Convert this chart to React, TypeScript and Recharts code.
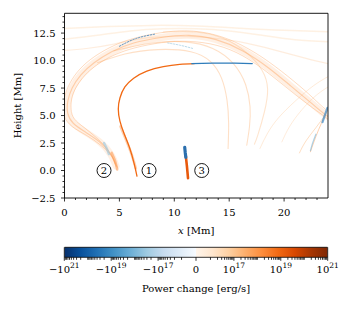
import React from "react";
import {
  LineChart,
  ComposedChart,
  Line,
  Area,
  XAxis,
  YAxis,
  ReferenceLine,
  ReferenceDot,
  Label,
} from "recharts";

const FONT = "DejaVu Serif";

type Pt = { x: number; y: number };

// axis ticks
const xMajorTicks = [0, 5, 10, 15, 20];
const xMinorTicks = [1, 2, 3, 4, 6, 7, 8, 9, 11, 12, 13, 14, 16, 17, 18, 19, 21, 22, 23];
const yMajorTicks = [-2.5, 0, 2.5, 5, 7.5, 10, 12.5];
const yMinorTicks = [
  -2, -1.5, -1, -0.5, 0.5, 1, 1.5, 2, 3, 3.5, 4, 4.5, 5.5, 6, 6.5, 7, 8, 8.5, 9, 9.5,
  10.5, 11, 11.5, 12, 13, 13.5, 14,
];
const X_MAX = 24;
const Y_MIN = -2.5;
const Y_MAX = 14.3;

// bright loop (1)
const loop1Orange: Pt[] = [
  { x: 6.6, y: -0.5 }, { x: 6.35, y: 0.6 }, { x: 5.95, y: 2.0 }, { x: 5.45, y: 3.3 },
  { x: 5.05, y: 4.5 }, { x: 4.9, y: 5.6 }, { x: 5.05, y: 6.6 }, { x: 5.5, y: 7.6 },
  { x: 6.3, y: 8.4 }, { x: 7.5, y: 9.05 }, { x: 9.0, y: 9.45 }, { x: 10.5, y: 9.65 },
  { x: 11.8, y: 9.72 },
];
const loop1Blue: Pt[] = [
  { x: 11.6, y: 9.72 }, { x: 13.5, y: 9.76 }, { x: 15.5, y: 9.76 }, { x: 17.1, y: 9.73 },
];
const loop1Foot: Pt[] = [
  { x: 5.1, y: 4.0 }, { x: 5.6, y: 2.8 }, { x: 6.1, y: 1.5 }, { x: 6.5, y: 0.2 },
];

// big faint loop (2)
const loop2Outer: Pt[] = [
  { x: 4.8, y: 0.3 }, { x: 4.3, y: 1.3 }, { x: 3.3, y: 2.3 }, { x: 2.0, y: 3.2 },
  { x: 0.7, y: 4.0 }, { x: 0.0, y: 4.9 }, { x: -0.1, y: 6.0 }, { x: 0.2, y: 7.3 },
  { x: 0.9, y: 8.6 }, { x: 2.0, y: 9.8 }, { x: 3.6, y: 10.9 }, { x: 5.6, y: 11.8 },
  { x: 8.0, y: 12.4 }, { x: 10.5, y: 12.7 }, { x: 13.0, y: 12.5 }, { x: 15.5, y: 11.7 },
  { x: 18.0, y: 10.3 }, { x: 20.3, y: 8.6 }, { x: 22.2, y: 7.0 }, { x: 23.5, y: 5.8 },
  { x: 24.3, y: 5.2 },
];
const loop2Mid: Pt[] = [
  { x: 4.7, y: 0.4 }, { x: 4.2, y: 1.5 }, { x: 3.2, y: 2.6 }, { x: 1.9, y: 3.5 },
  { x: 0.8, y: 4.3 }, { x: 0.3, y: 5.2 }, { x: 0.3, y: 6.3 }, { x: 0.7, y: 7.5 },
  { x: 1.5, y: 8.7 }, { x: 2.7, y: 9.8 }, { x: 4.3, y: 10.8 }, { x: 6.3, y: 11.6 },
  { x: 8.8, y: 12.1 }, { x: 11.3, y: 12.3 }, { x: 13.8, y: 11.9 }, { x: 16.2, y: 10.9 },
  { x: 18.5, y: 9.4 }, { x: 20.6, y: 7.7 }, { x: 22.4, y: 6.2 }, { x: 23.6, y: 5.2 },
  { x: 24.3, y: 4.7 },
];
const loop2Inner: Pt[] = [
  { x: 4.6, y: 0.6 }, { x: 4.0, y: 1.8 }, { x: 3.0, y: 2.9 }, { x: 1.8, y: 3.9 },
  { x: 0.9, y: 4.7 }, { x: 0.6, y: 5.6 }, { x: 0.7, y: 6.7 }, { x: 1.2, y: 7.8 },
  { x: 2.1, y: 8.9 }, { x: 3.4, y: 9.9 }, { x: 5.0, y: 10.7 }, { x: 7.0, y: 11.3 },
  { x: 9.5, y: 11.7 }, { x: 12.0, y: 11.7 }, { x: 14.5, y: 11.2 }, { x: 16.8, y: 10.1 },
  { x: 18.9, y: 8.6 }, { x: 20.9, y: 7.0 }, { x: 22.6, y: 5.7 }, { x: 23.7, y: 4.9 },
  { x: 24.3, y: 4.4 },
];
const loop2Foot: Pt[] = [{ x: 4.3, y: 1.6 }, { x: 4.6, y: 0.9 }, { x: 4.8, y: 0.1 }];
const loop2FootBlue: Pt[] = [{ x: 3.6, y: 2.5 }, { x: 3.85, y: 2.0 }, { x: 4.05, y: 1.5 }];
const loop2TopBlue: Pt[] = [{ x: 5.0, y: 11.3 }, { x: 6.5, y: 12.0 }, { x: 8.2, y: 12.4 }];
const loop2TopBlue2: Pt[] = [{ x: 9.4, y: 11.6 }, { x: 10.5, y: 11.4 }, { x: 11.7, y: 11.1 }];

// very faint upper lines
const top1: Pt[] = [
  { x: -0.5, y: 12.9 }, { x: 4, y: 13.1 }, { x: 8, y: 13.2 }, { x: 12, y: 13.15 },
  { x: 16, y: 12.95 }, { x: 20, y: 12.75 }, { x: 24.5, y: 12.6 },
];
const top2: Pt[] = [
  { x: -0.5, y: 11.9 }, { x: 3, y: 12.3 }, { x: 6, y: 12.7 }, { x: 9, y: 12.9 },
  { x: 12, y: 12.9 }, { x: 15, y: 12.7 }, { x: 18, y: 12.3 }, { x: 21, y: 11.9 },
  { x: 24.5, y: 11.7 },
];
const top3: Pt[] = [
  { x: -0.5, y: 10.9 }, { x: 2, y: 11.1 }, { x: 4.5, y: 11.5 }, { x: 7, y: 12.0 },
  { x: 10, y: 12.2 }, { x: 13, y: 12.1 }, { x: 16, y: 11.7 }, { x: 19, y: 11.0 },
  { x: 22, y: 10.2 }, { x: 24.5, y: 9.6 },
];

// inner arcs with feet near x = 15..18
const arcA: Pt[] = [
  { x: 3.0, y: 9.8 }, { x: 5.5, y: 10.6 }, { x: 8.5, y: 11.0 }, { x: 11.5, y: 10.8 },
  { x: 13.3, y: 9.9 }, { x: 14.3, y: 8.4 }, { x: 14.8, y: 6.4 }, { x: 14.95, y: 4.3 },
  { x: 14.9, y: 2.0 },
];
const arcB: Pt[] = [
  { x: 4.5, y: 10.9 }, { x: 8.0, y: 11.6 }, { x: 11.0, y: 11.7 }, { x: 13.5, y: 11.1 },
  { x: 15.4, y: 9.7 }, { x: 16.5, y: 7.8 }, { x: 16.9, y: 5.8 }, { x: 16.85, y: 4.0 },
  { x: 16.6, y: 2.3 },
];
const arcC: Pt[] = [
  { x: 9.0, y: 12.6 }, { x: 12.0, y: 12.6 }, { x: 14.5, y: 12.0 }, { x: 16.6, y: 10.7 },
  { x: 18.0, y: 9.1 }, { x: 18.5, y: 7.4 }, { x: 18.2, y: 5.3 }, { x: 17.6, y: 3.2 },
  { x: 17.3, y: 2.4 },
];
const arcD: Pt[] = [
  { x: 24.5, y: 8.8 }, { x: 22.8, y: 7.8 }, { x: 21.0, y: 6.3 }, { x: 19.5, y: 4.8 },
  { x: 18.5, y: 3.4 }, { x: 17.8, y: 2.0 },
];
const arcE: Pt[] = [
  { x: 24.5, y: 7.9 }, { x: 23.0, y: 6.9 }, { x: 21.6, y: 5.5 }, { x: 20.5, y: 4.0 },
  { x: 19.8, y: 2.6 },
];

// right footpoint cluster
const rightFootA: Pt[] = [{ x: 23.9, y: 5.4 }, { x: 23.4, y: 4.3 }, { x: 22.9, y: 3.1 }, { x: 22.4, y: 1.7 }];
const rightFootB: Pt[] = [{ x: 23.7, y: 5.0 }, { x: 22.9, y: 3.9 }, { x: 22.0, y: 2.7 }, { x: 21.4, y: 1.6 }];
const rightBlue: Pt[] = [{ x: 23.95, y: 5.7 }, { x: 23.7, y: 5.0 }, { x: 23.5, y: 4.4 }];
const rightBlue2: Pt[] = [{ x: 22.9, y: 3.3 }, { x: 22.6, y: 2.5 }, { x: 22.4, y: 1.8 }];

// small feature (3)
const f3Blue: Pt[] = [{ x: 10.95, y: 2.1 }, { x: 11.0, y: 1.6 }, { x: 11.05, y: 1.2 }];
const f3Orange: Pt[] = [{ x: 11.05, y: 1.3 }, { x: 11.15, y: 0.4 }, { x: 11.25, y: -0.7 }];

// circled labels
const markerX = [7.7, 3.6, 12.5];
const markerText = ["1", "2", "3"];

// colorbar (symlog)
const LINTHRESH = 1e16;
const LINSCALE = 0.617;
const cbarMajorValues = [-1e21, -1e19, -1e17, 0, 1e17, 1e19, 1e21];
const cbarMinorExponents = [16, 17, 18, 19, 20];
const cbarMinorMantissas = [1, 2, 3, 4, 5, 6, 7, 8, 9];

function symlog(v: number): number {
  const a = Math.abs(v);
  const s = Math.sign(v);
  if (a <= LINTHRESH) return (s * LINSCALE * a) / LINTHRESH;
  return s * (LINSCALE + Math.log10(a / LINTHRESH));
}

const cbarValues: number[] = [0, 1e21, -1e21];
cbarMinorExponents.forEach((e) =>
  cbarMinorMantissas.forEach((m) => {
    cbarValues.push(m * Math.pow(10, e));
    cbarValues.push(-m * Math.pow(10, e));
  })
);
const cbarTicks = cbarValues
  .map((v) => ({ v, u: symlog(v) }))
  .sort((a, b) => a.u - b.u);
const CBAR_MAX = symlog(1e21);
const cbarBar = [
  { u: -CBAR_MAX, h: 1 },
  { u: CBAR_MAX, h: 1 },
];

const bluesR = ["#08306b", "#08519c", "#2171b5", "#4292c6", "#6baed6", "#9ecae1", "#c6dbef", "#deebf7", "#f7fbff"];
const oranges = ["#fff5eb", "#fee6ce", "#fdd0a2", "#fdae6b", "#fd8d3c", "#f16913", "#d94801", "#a63603", "#7f2704"];

function strand(
  key: string,
  data: Pt[],
  stroke: string,
  width: number,
  opacity: number,
  type: any = "natural",
  dash?: string
) {
  return (
    <Line
      key={key}
      data={data}
      dataKey="y"
      type={type}
      stroke={stroke}
      strokeWidth={width}
      strokeOpacity={opacity}
      strokeDasharray={dash}
      strokeLinecap="round"
      dot={false}
      activeDot={false}
      isAnimationActive={false}
    />
  );
}

function XTick(props: any) {
  const { x, y, payload } = props;
  const major = xMajorTicks.includes(payload.value);
  return (
    <g>
      <line x1={x} x2={x} y1={y} y2={y + (major ? 3.5 : 2)} stroke="#000" strokeWidth={0.8} />
      {major && (
        <text x={x} y={y + 18} textAnchor="middle" fontFamily={FONT} fontSize={10} fill="#000">
          {payload.value}
        </text>
      )}
    </g>
  );
}

function YTick(props: any) {
  const { x, y, payload } = props;
  const major = yMajorTicks.includes(payload.value);
  return (
    <g>
      <line x1={x - (major ? 3.5 : 2)} x2={x} y1={y} y2={y} stroke="#000" strokeWidth={0.8} />
      {major && (
        <text x={x - 9} y={y} dy="0.36em" textAnchor="end" fontFamily={FONT} fontSize={10} fill="#000">
          {payload.value.toFixed(1).replace("-", "\u2212")}
        </text>
      )}
    </g>
  );
}

function CbarTick(props: any) {
  const { x, y, payload } = props;
  const t = cbarTicks.find((c) => Math.abs(c.u - payload.value) < 1e-9);
  const v = t ? t.v : 0;
  const major = cbarMajorValues.includes(v);
  let label: React.ReactNode = null;
  if (major) {
    if (v === 0) {
      label = "0";
    } else {
      const exp = Math.round(Math.log10(Math.abs(v)));
      label = (
        <>
          <tspan>{(v < 0 ? "\u2212" : "") + "10"}</tspan>
          <tspan dy={-4.5} fontSize={7.5}>
            {exp}
          </tspan>
        </>
      );
    }
  }
  return (
    <g>
      <line x1={x} x2={x} y1={y} y2={y + (major ? 3.5 : 2.5)} stroke="#000" strokeWidth={0.8} />
      {major && (
        <text x={x} y={y + 15.2} textAnchor="middle" fontFamily={FONT} fontSize={10} fill="#000">
          {label}
        </text>
      )}
    </g>
  );
}

export default function App() {
  return (
    <div style={{ position: "absolute", left: 0, top: 0, width: 350, height: 310, background: "#fff" }}>
      <svg width={0} height={0} style={{ position: "absolute" }}>
        <defs>
          <linearGradient id="cmap" x1="0" x2="1" y1="0" y2="0">
            {bluesR.map((c, i) => (
              <stop key={"b" + i} offset={i * 0.0625} stopColor={c} />
            ))}
            {oranges.map((c, i) => (
              <stop key={"o" + i} offset={0.5 + i * 0.0625} stopColor={c} />
            ))}
          </linearGradient>
        </defs>
      </svg>
      <LineChart width={350} height={240} margin={{ top: 13.3, right: 22, bottom: 12, left: 0 }}>
        <XAxis
          type="number"
          dataKey="x"
          domain={[0, X_MAX]}
          allowDataOverflow
          ticks={[...xMajorTicks, ...xMinorTicks]}
          interval={0}
          tickLine={false}
          axisLine={{ stroke: "#000", strokeWidth: 0.9 }}
          tickSize={0}
          tickMargin={0}
          height={30}
          tick={(p: any) => <XTick {...p} />}
        >
          <Label
            content={(p: any) => {
              const vb = p.viewBox;
              return (
                <text x={vb.x + vb.width / 2} y={vb.y + 35.5} textAnchor="middle" fontFamily={FONT} fontSize={10} fill="#000">
                  <tspan fontStyle="italic">x</tspan>
                  {" [Mm]"}
                </text>
              );
            }}
          />
        </XAxis>
        <YAxis
          type="number"
          dataKey="y"
          domain={[Y_MIN, Y_MAX]}
          allowDataOverflow
          ticks={[...yMajorTicks, ...yMinorTicks]}
          interval={0}
          tickLine={false}
          axisLine={{ stroke: "#000", strokeWidth: 0.9 }}
          tickSize={0}
          tickMargin={0}
          width={64.5}
          tick={(p: any) => <YTick {...p} />}
        >
          <Label
            content={(p: any) => {
              const vb = p.viewBox;
              const cx = vb.x + 17.5;
              const cy = vb.y + vb.height / 2;
              return (
                <text
                  x={cx}
                  y={cy}
                  transform={`rotate(-90 ${cx} ${cy})`}
                  textAnchor="middle"
                  dominantBaseline="central"
                  fontFamily={FONT}
                  fontSize={10}
                  fill="#000"
                >
                  Height [Mm]
                </text>
              );
            }}
          />
        </YAxis>

        {strand("top1", top1, "#fdd0a2", 1.5, 0.3)}
        {strand("top2", top2, "#fdd0a2", 1.5, 0.3)}
        {strand("top3", top3, "#fdc08a", 1.2, 0.28)}
        {strand("band2", loop2Mid, "#fdae6b", 7, 0.18)}
        {strand("l2o", loop2Outer, "#fd9a4f", 1, 0.35)}
        {strand("l2m", loop2Mid, "#fd9a4f", 1.2, 0.4)}
        {strand("l2i", loop2Inner, "#fd9a4f", 1, 0.35)}
        {strand("arcA", arcA, "#fdae6b", 1.1, 0.38)}
        {strand("arcB", arcB, "#fdae6b", 1.1, 0.38)}
        {strand("arcC", arcC, "#fdae6b", 1.1, 0.32)}
        {strand("arcD", arcD, "#fdc08a", 1, 0.32)}
        {strand("arcE", arcE, "#fdc08a", 1, 0.3)}
        {strand("rfA", rightFootA, "#fd9a4f", 1, 0.45)}
        {strand("rfB", rightFootB, "#fdae6b", 1, 0.4)}
        {strand("rb", rightBlue, "#4a90c8", 2.2, 0.75)}
        {strand("rb2", rightBlue2, "#6baed6", 1.2, 0.55)}
        {strand("l2foot", loop2Foot, "#fd8d3c", 2.5, 0.5)}
        {strand("l2fb", loop2FootBlue, "#9ecae1", 2.5, 0.65)}
        {strand("l2tb", loop2TopBlue, "#3c82bd", 1, 0.8, "natural", "1.5 1.5")}
        {strand("l2tb2", loop2TopBlue2, "#9ecae1", 1, 0.7, "natural", "1.5 1.5")}
        {strand("l1foot", loop1Foot, "#fd8d3c", 2.6, 0.4)}
        {strand("l1o", loop1Orange, "#f16913", 1.3, 1)}
        {strand("l1b", loop1Blue, "#2f7dbb", 1.3, 1, "linear")}
        {strand("f3o", f3Orange, "#e8590c", 2.6, 1, "linear")}
        {strand("f3b", f3Blue, "#2b6fae", 3.2, 1, "linear")}

        <ReferenceLine y={Y_MAX} stroke="#000" strokeWidth={0.9} />
        <ReferenceLine x={X_MAX} stroke="#000" strokeWidth={0.9} />
        {markerX.map((mx, i) => (
          <ReferenceDot
            key={"m" + i}
            x={mx}
            y={0}
            r={7}
            fill="#fff"
            stroke="#000"
            strokeWidth={0.9}
            label={{ value: markerText[i], position: "center", fontSize: 10, fontFamily: FONT, fill: "#000" }}
          />
        ))}
      </LineChart>
      <ComposedChart
        width={350}
        height={70}
        data={cbarBar}
        margin={{ top: 7.3, right: 22.3, bottom: 12.7, left: 64.3 }}
      >
        <XAxis
          type="number"
          dataKey="u"
          domain={[-CBAR_MAX, CBAR_MAX]}
          allowDataOverflow
          ticks={cbarTicks.map((t) => t.u)}
          interval={0}
          tickLine={false}
          axisLine={{ stroke: "#000", strokeWidth: 0.8 }}
          tickSize={0}
          tickMargin={0}
          height={40}
          tick={(p: any) => <CbarTick {...p} />}
        >
          <Label
            content={(p: any) => {
              const vb = p.viewBox;
              return (
                <text x={vb.x + vb.width / 2} y={vb.y + 35} textAnchor="middle" fontFamily={FONT} fontSize={10} fill="#000">
                  Power change [erg/s]
                </text>
              );
            }}
          />
        </XAxis>
        <YAxis hide type="number" dataKey="h" domain={[0, 1]} width={0} />
        <Area
          dataKey="h"
          type="linear"
          baseValue={0}
          fill="url(#cmap)"
          fillOpacity={1}
          stroke="#000"
          strokeWidth={0.8}
          dot={false}
          activeDot={false}
          isAnimationActive={false}
        />
        <ReferenceLine x={-CBAR_MAX} stroke="#000" strokeWidth={0.8} />
        <ReferenceLine x={CBAR_MAX} stroke="#000" strokeWidth={0.8} />
      </ComposedChart>
    </div>
  );
}
